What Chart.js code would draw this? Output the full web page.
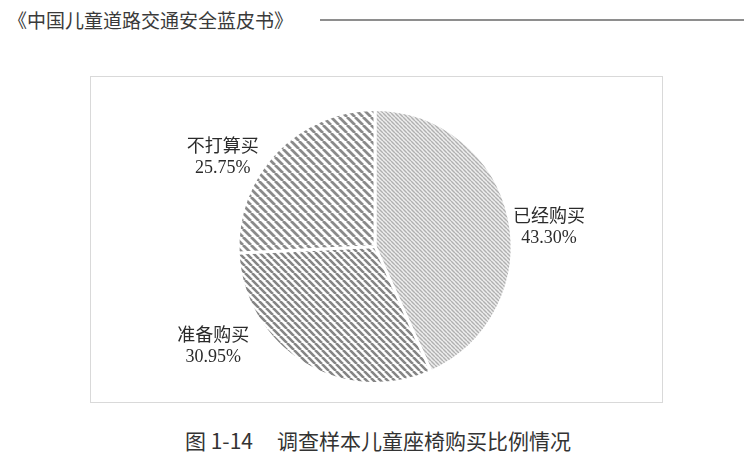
<!DOCTYPE html>
<html>
<head>
<meta charset="utf-8">
<script src="https://cdn.jsdelivr.net/npm/chart.js@4"></script>
<style>
  body { margin: 0; width: 756px; height: 461px; background: #fff; position: relative; overflow: hidden; font-family: "Noto Sans CJK SC", sans-serif; }
  #header { position: absolute; left: 8px; top: 6px; font-size: 19px; color: #3a3a3a; white-space: nowrap; }
  #rule { position: absolute; left: 320px; top: 19px; width: 424px; border-top: 2px solid #8e8e8e; }
  #box { position: absolute; left: 90px; top: 76px; width: 573px; height: 327px; box-sizing: border-box; border: 1px solid #d9d9d9; }
  #box canvas { position: absolute; left: 0; top: 0; }
  #caption { position: absolute; left: 0; width: 756px; top: 425px; text-align: center; font-size: 21px; color: #333; white-space: nowrap; }
</style>
</head>
<body>
<div id="header">《中国儿童道路交通安全蓝皮书》</div>
<div id="rule"></div>
<div id="box"><canvas id="pie-chart" width="571" height="325"></canvas></div>
<div id="caption">图 1-14<span style="display:inline-block;width:24px"></span>调查样本儿童座椅购买比例情况</div>
<script>
// dados do gráfico
var categorias = ["已经购买", "准备购买", "不打算买"];
var percentuais = [43.30, 30.95, 25.75];
var rotulos = ["43.30%", "30.95%", "25.75%"];

// deslocamento dos rótulos a partir da borda de cada fatia
var ajusteRotulo = [[40, 8], [-90, -18], [-53, 4]];

// padrão de listras diagonais
function listras(p, lw, cor, fundo) {
  var t = document.createElement("canvas");
  t.width = p;
  t.height = p;
  var c = t.getContext("2d");
  c.fillStyle = fundo;
  c.fillRect(0, 0, p, p);
  c.strokeStyle = cor;
  c.lineWidth = lw;
  c.beginPath();
  for (var k = -1; k <= 1; k++) {
    c.moveTo(k * p, 0);
    c.lineTo(k * p + p, p);
  }
  c.stroke();
  return c.createPattern(t, "repeat");
}

var cores = [
  listras(4, 1.4, "#b0b0b0", "#eeeeee"),
  listras(7, 2.6, "#858585", "#ffffff"),
  listras(8, 2.8, "#8a8a8a", "#ffffff")
];

var rotulosPlugin = {
  id: "rotulos",
  afterDraw: function (chart) {
    var ctx = chart.ctx;
    var arcs = chart.getDatasetMeta(0).data;
    ctx.save();
    ctx.fillStyle = "#2b2b2b";
    ctx.textAlign = "center";
    ctx.textBaseline = "middle";
    arcs.forEach(function (arc, i) {
      var p = arc.getProps(["x", "y", "startAngle", "endAngle", "outerRadius"]);
      var meio = (p.startAngle + p.endAngle) / 2;
      var x = p.x + Math.cos(meio) * p.outerRadius + ajusteRotulo[i][0];
      var y = p.y + Math.sin(meio) * p.outerRadius + ajusteRotulo[i][1];
      ctx.font = '18px "Noto Sans CJK SC"';
      ctx.fillText(categorias[i], x, y - 11);
      ctx.font = '18px "Liberation Serif"';
      ctx.fillText(rotulos[i], x, y + 12);
    });
    ctx.restore();
  }
};

var ctx = document.getElementById("pie-chart").getContext("2d");
var chart = new Chart(ctx, {
  type: "pie",
  data: {
    labels: categorias,
    datasets: [{
      data: percentuais,
      backgroundColor: cores,
      borderColor: "#ffffff",
      borderWidth: 3,
      hoverBorderWidth: 3
    }]
  },
  options: {
    responsive: false,
    animation: false,
    devicePixelRatio: 1,
    radius: 137,
    layout: { padding: { left: 0, right: 3, top: 14, bottom: 0 } },
    plugins: {
      legend: { display: false },
      tooltip: { enabled: false }
    }
  },
  plugins: [rotulosPlugin]
});
</script>
</body>
</html>
